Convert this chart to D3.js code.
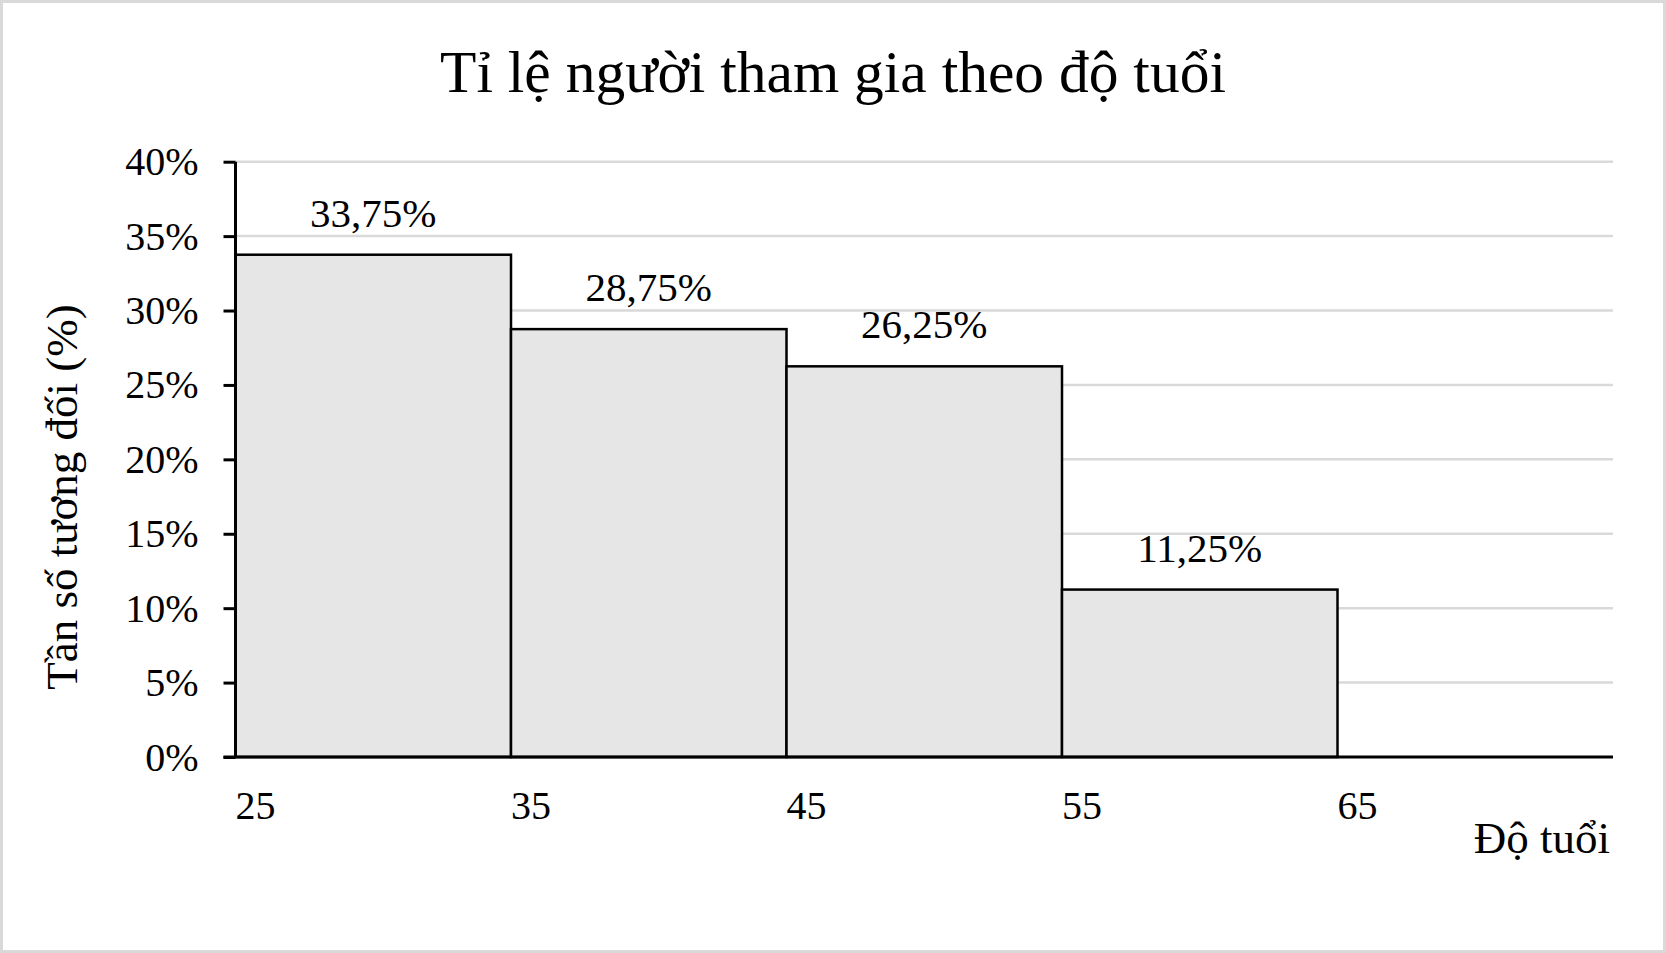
<!DOCTYPE html>
<html>
<head>
<meta charset="utf-8">
<script src="https://cdn.jsdelivr.net/npm/d3@7"></script>
<style>
  body { margin: 0; background: #fff; }
  text { font-family: "Liberation Serif", "Times New Roman", serif; fill: #000; }
</style>
</head>
<body>
<script>
// histogram data
const binStarts = [25, 35, 45, 55]
const binWidth = 10
const percents = [33.75, 28.75, 26.25, 11.25]
const xTicks = [25, 35, 45, 55, 65]
const yTicks = [0, 5, 10, 15, 20, 25, 30, 35, 40]
const title = 'Tỉ lệ người tham gia theo độ tuổi'
const xTitle = 'Độ tuổi'
const yTitle = 'Tần số tương đối (%)'

const W = 1666, H = 953
const plotLeft = 235.5, plotRight = 1613, plotTop = 161.7, plotBottom = 757

let svg

function createSVG() {
  svg = d3.select('body').append('svg').attr('width', W).attr('height', H)
  svg.append('rect')
    .attr('x', 1.5).attr('y', 1.5)
    .attr('width', W - 3).attr('height', H - 3)
    .attr('fill', '#fff')
    .attr('stroke', '#d9d9d9')
    .attr('stroke-width', 3)
}

const x = d3.scaleLinear().domain([25, 75]).range([plotLeft, plotRight])
const y = d3.scaleLinear().domain([0, 40]).range([plotBottom, plotTop])

function drawGrid() {
  svg.append('g').selectAll('line')
    .data(yTicks.filter(d => d > 0))
    .join('line')
    .attr('x1', plotLeft).attr('x2', plotRight)
    .attr('y1', d => y(d)).attr('y2', d => y(d))
    .attr('stroke', '#d9d9d9')
    .attr('stroke-width', 2.5)
}

function drawBars() {
  svg.append('g').selectAll('rect')
    .data(percents)
    .join('rect')
    .attr('x', (d, i) => x(binStarts[i]))
    .attr('y', d => y(d))
    .attr('width', (d, i) => x(binStarts[i] + binWidth) - x(binStarts[i]))
    .attr('height', d => plotBottom - y(d))
    .attr('fill', '#e6e6e6')
    .attr('stroke', '#000')
    .attr('stroke-width', 2.5)

  svg.append('g').selectAll('text')
    .data(percents)
    .join('text')
    .attr('x', (d, i) => x(binStarts[i] + binWidth / 2))
    .attr('y', d => y(d) - 28)
    .attr('text-anchor', 'middle')
    .attr('font-size', 41)
    .text(d => d.toFixed(2).replace('.', ',') + '%')
}

function drawAxes() {
  // y axis
  const yAxis = svg.append('g')
    .attr('transform', `translate(${plotLeft},0)`)
    .call(d3.axisLeft(y).tickValues(yTicks).tickSize(12).tickPadding(25)
      .tickFormat(d => d + '%'))
  yAxis.select('.domain').attr('stroke', '#000').attr('stroke-width', 3)
    .attr('d', `M0,${plotTop}V${plotBottom}`)
  yAxis.selectAll('.tick line').attr('stroke', '#000').attr('stroke-width', 3)
  yAxis.selectAll('.tick text')
    .attr('font-size', 40)
    .attr('font-family', '"Liberation Serif", serif')
    .attr('dy', 13)
    .attr('x', -37)

  // x axis line
  svg.append('line')
    .attr('x1', plotLeft - 12).attr('x2', plotRight)
    .attr('y1', plotBottom).attr('y2', plotBottom)
    .attr('stroke', '#000').attr('stroke-width', 3)

  svg.append('g').selectAll('text')
    .data(xTicks)
    .join('text')
    .attr('x', d => x(d))
    .attr('y', 819)
    .attr('font-size', 40)
    .text(d => d)
}

function drawTitles() {
  svg.append('text')
    .attr('x', W / 2).attr('y', 92)
    .attr('text-anchor', 'middle')
    .attr('font-size', 59.5)
    .text(title)

  svg.append('text')
    .attr('x', 1610).attr('y', 853)
    .attr('text-anchor', 'end')
    .attr('font-size', 45)
    .text(xTitle)

  svg.append('text')
    .attr('transform', 'translate(77,497) rotate(-90)')
    .attr('text-anchor', 'middle')
    .attr('font-size', 45)
    .text(yTitle)
}

createSVG()
drawGrid()
drawBars()
drawAxes()
drawTitles()
</script>
</body>
</html>
